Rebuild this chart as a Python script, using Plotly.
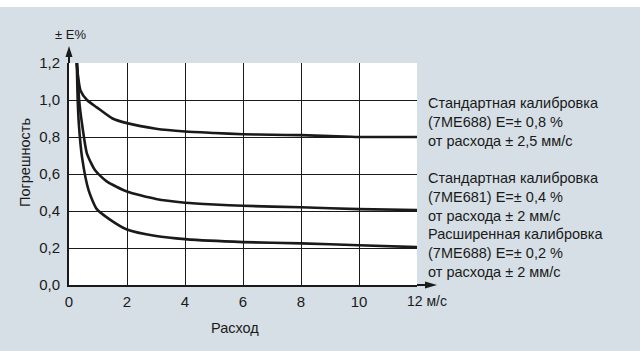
import plotly.graph_objects as go

# Data
x_std688 = [0.26, 0.40, 0.62, 0.96, 1.5, 2.0, 3.0, 4.0, 5.0, 6.0, 7.0, 8.0, 9.0, 10.0, 11.0, 12.0]
y_std688 = [1.20, 1.05, 1.00, 0.96, 0.90, 0.875, 0.845, 0.83, 0.822, 0.815, 0.812, 0.81, 0.805, 0.80, 0.80, 0.80]

x_std681 = [0.28, 0.35, 0.45, 0.62, 0.90, 1.3, 2.0, 3.0, 4.0, 5.0, 6.0, 8.0, 10.0, 12.0]
y_std681 = [1.20, 1.00, 0.87, 0.71, 0.62, 0.56, 0.505, 0.465, 0.445, 0.435, 0.428, 0.42, 0.41, 0.405]

x_ext688 = [0.27, 0.30, 0.34, 0.45, 0.68, 0.96, 1.4, 2.0, 3.0, 4.0, 6.0, 8.0, 10.0, 12.0]
y_ext688 = [1.20, 1.00, 0.87, 0.69, 0.51, 0.41, 0.355, 0.30, 0.265, 0.248, 0.232, 0.225, 0.215, 0.205]

x_tickvals = [0, 2, 4, 6, 8, 10, 12]
x_ticktext = ["0", "2", "4", "6", "8", "10", ""]
y_tickvals = [0.0, 0.2, 0.4, 0.6, 0.8, 1.0, 1.2]
y_ticktext = ["0,0", "0,2", "0,4", "0,6", "0,8", "1,0", "1,2"]

labels = [
    "Стандартная калибровка<br>(7ME688) E=± 0,8 %<br>от расхода ± 2,5 мм/с",
    "Стандартная калибровка<br>(7ME681) E=± 0,4 %<br>от расхода ± 2 мм/с",
    "Расширенная калибровка<br>(7ME688) E=± 0,2 %<br>от расхода ± 2 мм/с",
]

FONT = "Liberation Sans, Arial, sans-serif"
BG = "#d6dfe5"
INK = "#1a1a1a"

W, H = 640, 351
ML, MR, MT, MB = 69, 223, 63, 66
PW, PH = W - ML - MR, H - MT - MB

fig = go.Figure()
for xs, ys in [(x_std688, y_std688), (x_std681, y_std681), (x_ext688, y_ext688)]:
    fig.add_trace(go.Scatter(x=xs, y=ys, mode="lines", line=dict(color=INK, width=2.6, shape="spline", smoothing=0.6),
                             showlegend=False, hoverinfo="skip"))

def px_x(p):
    return (p - ML) / PW

def px_y(p):
    return (H - MB - p) / PH

shapes = [
    # white strip at top of the picture
    dict(type="rect", xref="paper", yref="paper", x0=px_x(-5), x1=px_x(W + 5), y0=px_y(7), y1=px_y(-5),
         fillcolor="white", line=dict(width=0), layer="above"),
    # axis extensions
    dict(type="line", xref="paper", yref="paper", x0=0, x1=0, y0=1, y1=px_y(55), line=dict(color=INK, width=2)),
    dict(type="line", xref="paper", yref="paper", x0=1, x1=px_x(427), y0=0, y1=0, line=dict(color=INK, width=2)),
    # arrow heads
    dict(type="path", xref="paper", yref="paper",
         path=f"M {px_x(65.5)} {px_y(57)} L {px_x(72.5)} {px_y(57)} L {px_x(69)} {px_y(46)} Z",
         fillcolor=INK, line=dict(width=0)),
    dict(type="path", xref="paper", yref="paper",
         path=f"M {px_x(425)} {px_y(281.5)} L {px_x(425)} {px_y(288.5)} L {px_x(437)} {px_y(285)} Z",
         fillcolor=INK, line=dict(width=0)),
]

annotations = [
    dict(text="± E%", xref="paper", yref="paper", x=px_x(70), y=px_y(35), showarrow=False,
         font=dict(family=FONT, size=13, color=INK), xanchor="center", yanchor="middle"),
    dict(text="Погрешность", xref="paper", yref="paper", x=px_x(25), y=px_y(162), showarrow=False, textangle=-90,
         font=dict(family=FONT, size=14.5, color=INK), xanchor="center", yanchor="middle"),
    dict(text="Расход", xref="paper", yref="paper", x=px_x(234.5), y=px_y(327.5), showarrow=False,
         font=dict(family=FONT, size=14.5, color=INK), xanchor="center", yanchor="middle"),
    dict(text="12 м/с", xref="paper", yref="paper", x=px_x(405), y=px_y(301), showarrow=False,
         font=dict(family=FONT, size=14, color=INK), xanchor="left", yanchor="middle"),
]
for txt, cy in zip(labels, [121.7, 197.3, 253.3]):
    annotations.append(dict(text=txt, xref="paper", yref="paper", x=px_x(426), y=px_y(cy), showarrow=False,
                            align="left", xanchor="left", yanchor="middle",
                            font=dict(family=FONT, size=14.5, color=INK)))

fig.update_layout(
    width=W, height=H,
    margin=dict(l=ML, r=MR, t=MT, b=MB, pad=0),
    paper_bgcolor=BG, plot_bgcolor="white",
    font=dict(family=FONT, size=14, color=INK),
    shapes=shapes, annotations=annotations,
    xaxis=dict(range=[0, 12], tickvals=x_tickvals, ticktext=x_ticktext, showgrid=True, gridcolor=INK, gridwidth=1,
               showline=True, linecolor=INK, linewidth=2, zeroline=False, ticks="", fixedrange=True,
               ticklabelstandoff=2, tickfont=dict(family=FONT, size=15, color=INK)),
    yaxis=dict(range=[0, 1.2], tickvals=y_tickvals, ticktext=y_ticktext, showgrid=True, gridcolor=INK, gridwidth=1,
               showline=True, linecolor=INK, linewidth=2, zeroline=False, ticks="", fixedrange=True,
               ticklabelstandoff=4, tickfont=dict(family=FONT, size=15, color=INK)),
)

fig.write_html("out.html", config=dict(displayModeBar=False),
               post_script="document.body.style.margin='0';document.body.style.padding='0';")
